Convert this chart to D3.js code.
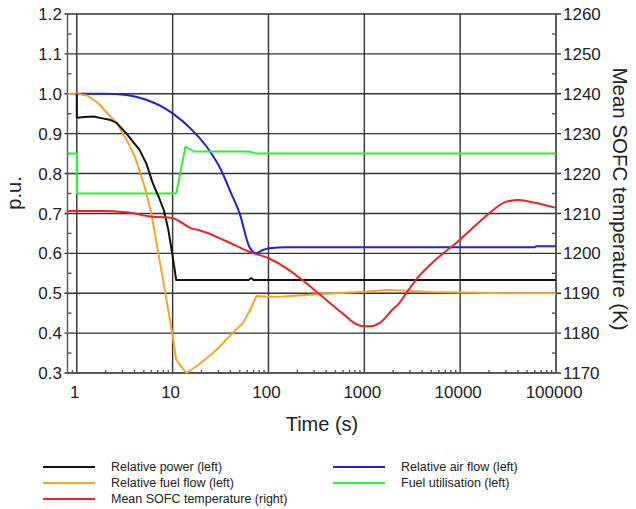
<!DOCTYPE html>
<html>
<head>
<meta charset="utf-8">
<script src="https://cdn.jsdelivr.net/npm/d3@7"></script>
<style>
  body { margin: 0; background: #fff; }
  svg { display: block; font-family: "Liberation Sans", Arial, sans-serif; }
</style>
</head>
<body>
<svg id="chart" width="636" height="509"></svg>
<script>
// time (s) and values
var powerT = [1, 1, 1.2, 1.5, 1.8, 2.2, 2.6, 3.3, 4.0, 4.5, 5.3, 6.2, 7.2, 8.1, 9.0, 9.9, 10.9, 20, 50, 62, 66, 70, 100, 1000, 10000, 100000];
var powerV = [1.0, 0.94, 0.942, 0.943, 0.939, 0.935, 0.927, 0.90, 0.875, 0.86, 0.826, 0.776, 0.74, 0.708, 0.66, 0.60, 0.533, 0.533, 0.533, 0.533, 0.538, 0.533, 0.533, 0.533, 0.533, 0.533];

var fuelT = [0.8, 1.0, 1.3, 1.7, 2.2, 2.6, 3.3, 4.0, 4.5, 5.2, 6.0, 7.3, 8.9, 9.9, 10.9, 13.9, 19, 24, 30, 42, 54, 65, 75, 100, 140, 366, 1000, 1700, 2500, 5000, 10000, 30000, 100000];
var fuelV = [1.0, 1.0, 0.995, 0.975, 0.945, 0.928, 0.885, 0.845, 0.81, 0.76, 0.70, 0.583, 0.465, 0.40, 0.333, 0.30, 0.322, 0.342, 0.362, 0.40, 0.425, 0.46, 0.493, 0.491, 0.492, 0.498, 0.504, 0.508, 0.507, 0.503, 0.502, 0.50, 0.50];

var airT = [1, 2, 3.3, 5.3, 10, 16, 24, 32, 40, 50, 63, 74, 85, 102, 153, 1000, 10000, 60000, 62000, 100000];
var airV = [1.0, 1.0, 0.997, 0.985, 0.951, 0.909, 0.859, 0.809, 0.755, 0.70, 0.617, 0.60, 0.607, 0.613, 0.615, 0.615, 0.615, 0.615, 0.618, 0.618];

var utilT = [0.8, 1.0, 1.0, 10.9, 13.6, 17, 63, 77, 100000];
var utilV = [0.85, 0.85, 0.75, 0.75, 0.867, 0.855, 0.855, 0.85, 0.85];

var tempT = [0.8, 1.74, 3.3, 5.6, 10, 16, 19, 36, 63, 102, 153, 226, 366, 590, 850, 1000, 1120, 1440, 1950, 2316, 2700, 3700, 5100, 9800, 14600, 20000, 30000, 41000, 62000, 100000];
var tempV = [1210.6, 1210.6, 1210.3, 1209.3, 1208.8, 1206.2, 1205.8, 1203.1, 1200.4, 1198.7, 1196.3, 1193.3, 1189.1, 1185, 1182.1, 1181.7, 1181.7, 1182.5, 1185.8, 1187.5, 1189.8, 1194.2, 1197.6, 1203.3, 1207.1, 1210, 1212.9, 1213.4, 1212.6, 1211.4];

var xTicks = [1, 10, 100, 1000, 10000, 100000];
var yTicks = [0.3, 0.4, 0.5, 0.6, 0.7, 0.8, 0.9, 1.0, 1.1, 1.2];
var tTicks = [1170, 1180, 1190, 1200, 1210, 1220, 1230, 1240, 1250, 1260];

var seriesNames = ["Relative power (left)", "Relative fuel flow (left)", "Mean SOFC temperature (right)", "Relative air flow (left)", "Fuel utilisation (left)"];
var seriesColors = ["#111111", "#f5a52a", "#ee2222", "#2020dd", "#33ee33"];

var pL = 67.5, pR = 556, pT = 14, pB = 373;

var svg = d3.select("#chart");

var x = d3.scaleLog().domain([0.8, 100000]).range([pL, pR]);
var y = d3.scaleLinear().domain([0.3, 1.2]).range([pB, pT]);
var yT = d3.scaleLinear().domain([1170, 1260]).range([pB, pT]);

// grid
var grid = svg.append("g").attr("stroke", "#333").attr("stroke-width", 1.4);
grid.selectAll(".hg").data(yTicks).enter().append("line")
    .attr("x1", pL - 3).attr("x2", pR + 5)
    .attr("y1", function (d) { return y(d); })
    .attr("y2", function (d) { return y(d); });
grid.selectAll(".vg").data(xTicks).enter().append("line")
    .attr("y1", pT).attr("y2", pB)
    .attr("x1", function (d) { return x(d); })
    .attr("x2", function (d) { return x(d); });

// axes frame
var frame = svg.append("g").attr("stroke", "#555").attr("stroke-width", 1.4);
frame.append("line").attr("x1", pL).attr("x2", pL).attr("y1", pT).attr("y2", pB);
frame.append("line").attr("x1", pR).attr("x2", pR).attr("y1", pT).attr("y2", pB);
frame.append("line").attr("x1", pL).attr("x2", pR).attr("y1", pB).attr("y2", pB);

// minor ticks
var minorX = [0.9];
for (var e = 0; e < 5; e++) {
    for (var m = 2; m <= 9; m++) minorX.push(m * Math.pow(10, e));
}
frame.selectAll(".mx").data(minorX).enter().append("line")
    .attr("x1", function (d) { return x(d); })
    .attr("x2", function (d) { return x(d); })
    .attr("y1", pB).attr("y2", pB - 3);
frame.selectAll(".my").data(d3.range(0.35, 1.2, 0.1)).enter().append("line")
    .attr("x1", pL).attr("x2", pL + 4)
    .attr("y1", function (d) { return y(d); })
    .attr("y2", function (d) { return y(d); });
frame.selectAll(".mt").data(d3.range(1175, 1260, 10)).enter().append("line")
    .attr("x1", pR).attr("x2", pR - 4)
    .attr("y1", function (d) { return yT(d); })
    .attr("y2", function (d) { return yT(d); });

// tick labels
var lab = svg.append("g").attr("fill", "#222").attr("font-size", 17);
lab.selectAll(".xl").data(xTicks).enter().append("text")
    .attr("x", function (d) { return x(d) - 2; })
    .attr("y", 398)
    .attr("text-anchor", "middle")
    .text(function (d) { return d; });
lab.selectAll(".yl").data(yTicks).enter().append("text")
    .attr("x", 62)
    .attr("y", function (d) { return y(d); })
    .attr("dy", "0.36em")
    .attr("text-anchor", "end")
    .text(function (d) { return d.toFixed(1); });
lab.selectAll(".tl").data(tTicks).enter().append("text")
    .attr("x", 563)
    .attr("y", function (d) { return yT(d); })
    .attr("dy", "0.36em")
    .text(function (d) { return d; });

// axis titles
svg.append("text").attr("font-size", 20).attr("fill", "#222")
    .attr("x", 322).attr("y", 431).attr("text-anchor", "middle")
    .text("Time (s)");
svg.append("text").attr("font-size", 20).attr("fill", "#222")
    .attr("transform", "translate(21,193) rotate(-90)")
    .attr("text-anchor", "middle")
    .text("p.u.");
svg.append("text").attr("font-size", 20.5).attr("fill", "#222")
    .attr("transform", "translate(613,199) rotate(90)")
    .attr("text-anchor", "middle")
    .text("Mean SOFC temperature (K)");

// series
function zip(ts, vs) {
    return ts.map(function (t, i) { return [t, vs[i]]; });
}
// smooth only the curves that have no steps or sharp kinks
var series = [
    {pts: zip(airT, airV), sc: y, color: seriesColors[3], curve: d3.curveMonotoneX},
    {pts: zip(utilT, utilV), sc: y, color: seriesColors[4], curve: d3.curveLinear},
    {pts: zip(fuelT, fuelV), sc: y, color: seriesColors[1], curve: d3.curveLinear},
    {pts: zip(powerT, powerV), sc: y, color: seriesColors[0], curve: d3.curveLinear},
    {pts: zip(tempT, tempV), sc: yT, color: seriesColors[2], curve: d3.curveMonotoneX}
];
series.forEach(function (s) {
    var line = d3.line()
        .curve(s.curve)
        .x(function (d) { return x(d[0]); })
        .y(function (d) { return s.sc(d[1]); });
    svg.append("path")
        .attr("d", line(s.pts))
        .attr("fill", "none")
        .attr("stroke", s.color)
        .attr("stroke-width", 2)
        .attr("stroke-linejoin", "round");
});

// legend
var legendPos = [[43, 467], [43, 483], [43, 499], [333, 467], [333, 483]];
var lg = svg.append("g").attr("font-size", 12.5).attr("fill", "#222");
seriesNames.forEach(function (name, i) {
    var p = legendPos[i];
    lg.append("line")
        .attr("x1", p[0]).attr("x2", p[0] + 52)
        .attr("y1", p[1]).attr("y2", p[1])
        .attr("stroke", seriesColors[i]).attr("stroke-width", 2);
    lg.append("text")
        .attr("x", p[0] + 68).attr("y", p[1]).attr("dy", "0.35em")
        .text(name);
});
</script>
</body>
</html>
